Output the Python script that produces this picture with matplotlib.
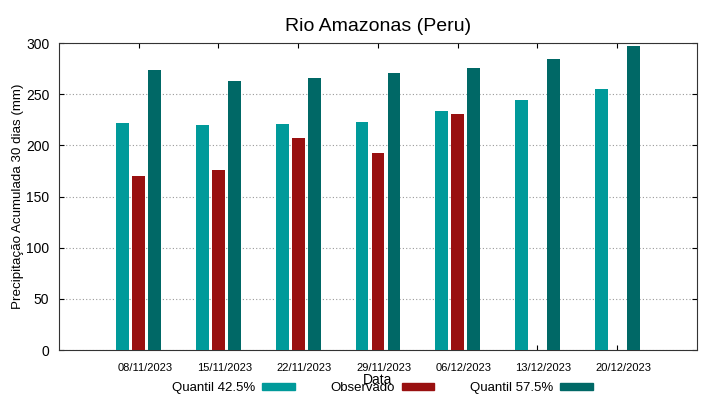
import numpy as np
import matplotlib
matplotlib.use("Agg")
import matplotlib.pyplot as plt
import matplotlib.transforms as mtransforms
from matplotlib.patches import Patch

plt.rcParams['font.family'] = ['Liberation Sans', 'DejaVu Sans']

datas = ['08/11/2023', '15/11/2023', '22/11/2023', '29/11/2023',
         '06/12/2023', '13/12/2023', '20/12/2023']
q425 = [222, 220, 221, 223, 234, 244, 255]
observado = [170, 176, 207, 193, 231, np.nan, np.nan]
q575 = [274, 263, 266, 271, 276, 284, 297]

cor_q425 = '#009a9a'
cor_obs = '#991010'
cor_q575 = '#006866'

fig = plt.figure(figsize=(7.19, 3.99), dpi=100)
ax = fig.add_axes([0.082, 0.1228, 0.8874, 0.7694])

x = np.arange(1, len(datas) + 1)
w = 0.16
ax.bar(x - 0.2, q425, w, color=cor_q425, zorder=3)
ax.bar(x, observado, w, color=cor_obs, zorder=3)
ax.bar(x + 0.2, q575, w, color=cor_q575, zorder=3)

ax.set_xlim(0, 8)
ax.set_ylim(0, 300)
ax.set_xticks(x)
ax.set_xticklabels(datas, fontsize=8)
ax.set_yticks(np.arange(0, 301, 50))
ax.tick_params(axis='y', labelsize=10, direction='in', right=True, pad=7)
ax.tick_params(axis='x', direction='in', top=True, pad=9)
offset = mtransforms.ScaledTranslation(6 / 100, 0, fig.dpi_scale_trans)
for lab in ax.get_xticklabels():
    lab.set_transform(lab.get_transform() + offset)

ax.yaxis.grid(True, linestyle=(0, (1, 2)), color='#999999', linewidth=0.8, zorder=0)
for s in ax.spines.values():
    s.set_color('#333333')

ax.set_title('Rio Amazonas (Peru)', fontsize=14, pad=9)
ax.set_ylabel('Precipitação Acumulada 30 dias (mm)', fontsize=9.6, labelpad=1)
ax.set_xlabel('Data', fontsize=10, labelpad=0)

handles = [Patch(color=cor_q425), Patch(color=cor_obs), Patch(color=cor_q575)]
fig.legend(handles, ['Quantil 42.5%', 'Observado', 'Quantil 57.5%'],
           loc='center', bbox_to_anchor=(0.532, 0.027), ncol=3, markerfirst=False,
           frameon=False, fontsize=9.5, handlelength=2.5, handleheight=0.45,
           columnspacing=2.7, handletextpad=0.5)

fig.savefig('out.png', dpi=100)
